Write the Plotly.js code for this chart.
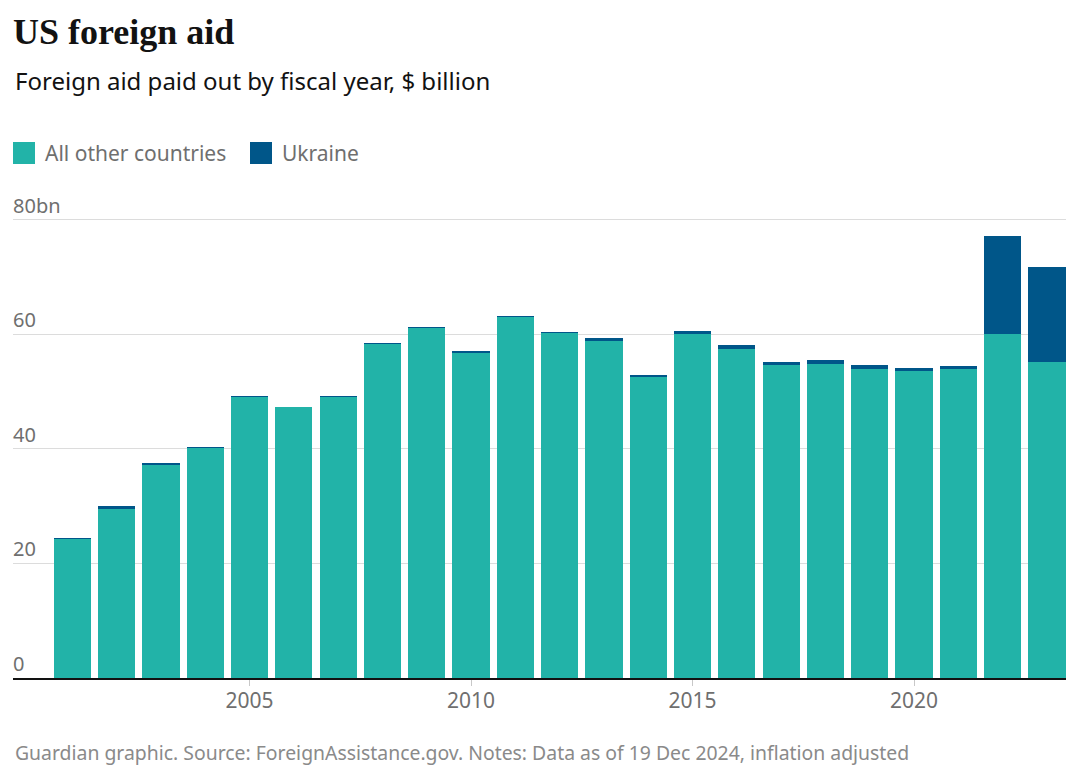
<!DOCTYPE html>
<html>
<head>
<meta charset="utf-8">
<script src="https://cdn.plot.ly/plotly-3.0.1.min.js"></script>
<style>html,body{margin:0;padding:0;background:#fff;}#chart{width:1080px;height:782px;}</style>
</head>
<body>
<div id="chart"></div>
<script>
// ---- Data ----
const years = [2001,2002,2003,2004,2005,2006,2007,2008,2009,2010,2011,2012,2013,2014,2015,2016,2017,2018,2019,2020,2021,2022,2023];
const otherCountries = [24.3,29.6,37.2,40.2,49.1,47.3,49.1,58.4,61.2,56.8,63.0,60.2,58.9,52.6,60.1,57.5,54.7,54.9,54.0,53.6,54.0,60.0,55.2];
const ukraine = [0.2,0.4,0.3,0.1,0.2,0.1,0.2,0.1,0.1,0.3,0.2,0.3,0.4,0.3,0.5,0.6,0.5,0.6,0.6,0.6,0.5,17.2,16.6];
const seriesNames = ["All other countries", "Ukraine"];
const xTickVals = [2005, 2010, 2015, 2020];
const yTickVals = [0, 20, 40, 60, 80];
const yTickText = ["0", "20", "40", "60", "80bn"];
const titleText = "US foreign aid";
const subtitleText = "Foreign aid paid out by fiscal year, $ billion";
const footerText = "Guardian graphic. Source: ForeignAssistance.gov. Notes: Data as of 19 Dec 2024, inflation adjusted";

// ---- Styling ----
const TEAL = "#22b3a8";
const NAVY = "#005689";
const W = 1080, H = 782;
const M = {l: 13, r: 14, t: 197, b: 104};
const plotW = W - M.l - M.r, plotH = H - M.t - M.b;
const px2x = p => (p - M.l) / plotW;
const px2y = p => (H - M.b - p) / plotH;
const sans = "Noto Sans, Open Sans, sans-serif";

const traces = [
  {type: "bar", name: seriesNames[0], x: years, y: otherCountries, marker: {color: TEAL, line: {width: 0}}, width: 0.84, hoverinfo: "x+y+name"},
  {type: "bar", name: seriesNames[1], x: years, y: ukraine, marker: {color: NAVY, line: {width: 0}}, width: 0.84, hoverinfo: "x+y+name"}
];

const legendItems = [
  {name: seriesNames[0], color: TEAL, sq: 13, tx: 43},
  {name: seriesNames[1], color: NAVY, sq: 250, tx: 280}
];
const shapes = legendItems.map(it => ({
  type: "rect", xref: "paper", yref: "paper",
  x0: px2x(it.sq), x1: px2x(it.sq + 22), y0: px2y(164), y1: px2y(142),
  fillcolor: it.color, line: {width: 0}
}));
const annotations = legendItems.map(it => ({
  xref: "paper", yref: "paper", x: px2x(it.tx), y: px2y(153),
  xanchor: "left", yanchor: "middle", showarrow: false,
  text: it.name, font: {family: sans, size: 21, color: "#6f6f6f"}
}));
annotations.push({
  xref: "paper", yref: "paper", x: px2x(13), y: px2y(80),
  xanchor: "left", yanchor: "middle", showarrow: false,
  text: subtitleText, font: {family: sans, size: 24, color: "#121212"}
});
annotations.push({
  xref: "paper", yref: "paper", x: px2x(13), y: px2y(752),
  xanchor: "left", yanchor: "middle", showarrow: false,
  text: footerText, font: {family: sans, size: 19.4, color: "#8a8a8a"}
});

const layout = {
  width: W, height: H,
  margin: M,
  paper_bgcolor: "#fff", plot_bgcolor: "#fff",
  barmode: "stack",
  showlegend: false,
  title: {
    text: "<b>" + titleText + "</b>",
    x: 13 / W, xanchor: "left", xref: "container",
    y: 1 - 31 / H, yanchor: "middle", yref: "container",
    font: {family: "Liberation Serif, DejaVu Serif, serif", size: 36, color: "#121212"}
  },
  xaxis: {
    range: [1999.66, 2023.43],
    tickvals: xTickVals,
    ticktext: xTickVals.map(String),
    ticks: "outside", ticklen: 6, tickwidth: 1, tickcolor: "#c8c8c8",
    showline: true, linecolor: "#121212", linewidth: 2,
    showgrid: false, zeroline: false,
    tickfont: {family: sans, size: 21, color: "#6f6f6f"},
    ticklabelstandoff: -3,
    fixedrange: true
  },
  yaxis: {
    range: [0, 84],
    tickvals: yTickVals,
    ticktext: yTickText,
    ticklabelposition: "inside top",
    ticklabeloverflow: "allow",
    ticklabelstandoff: -3,
    ticks: "", showline: false,
    showgrid: true, gridcolor: "#dcdcdc", gridwidth: 1,
    zeroline: false,
    tickfont: {family: sans, size: 20, color: "#6f6f6f"},
    fixedrange: true
  },
  shapes: shapes,
  annotations: annotations
};

Plotly.newPlot("chart", traces, layout, {displayModeBar: false, staticPlot: true});
</script>
</body>
</html>
